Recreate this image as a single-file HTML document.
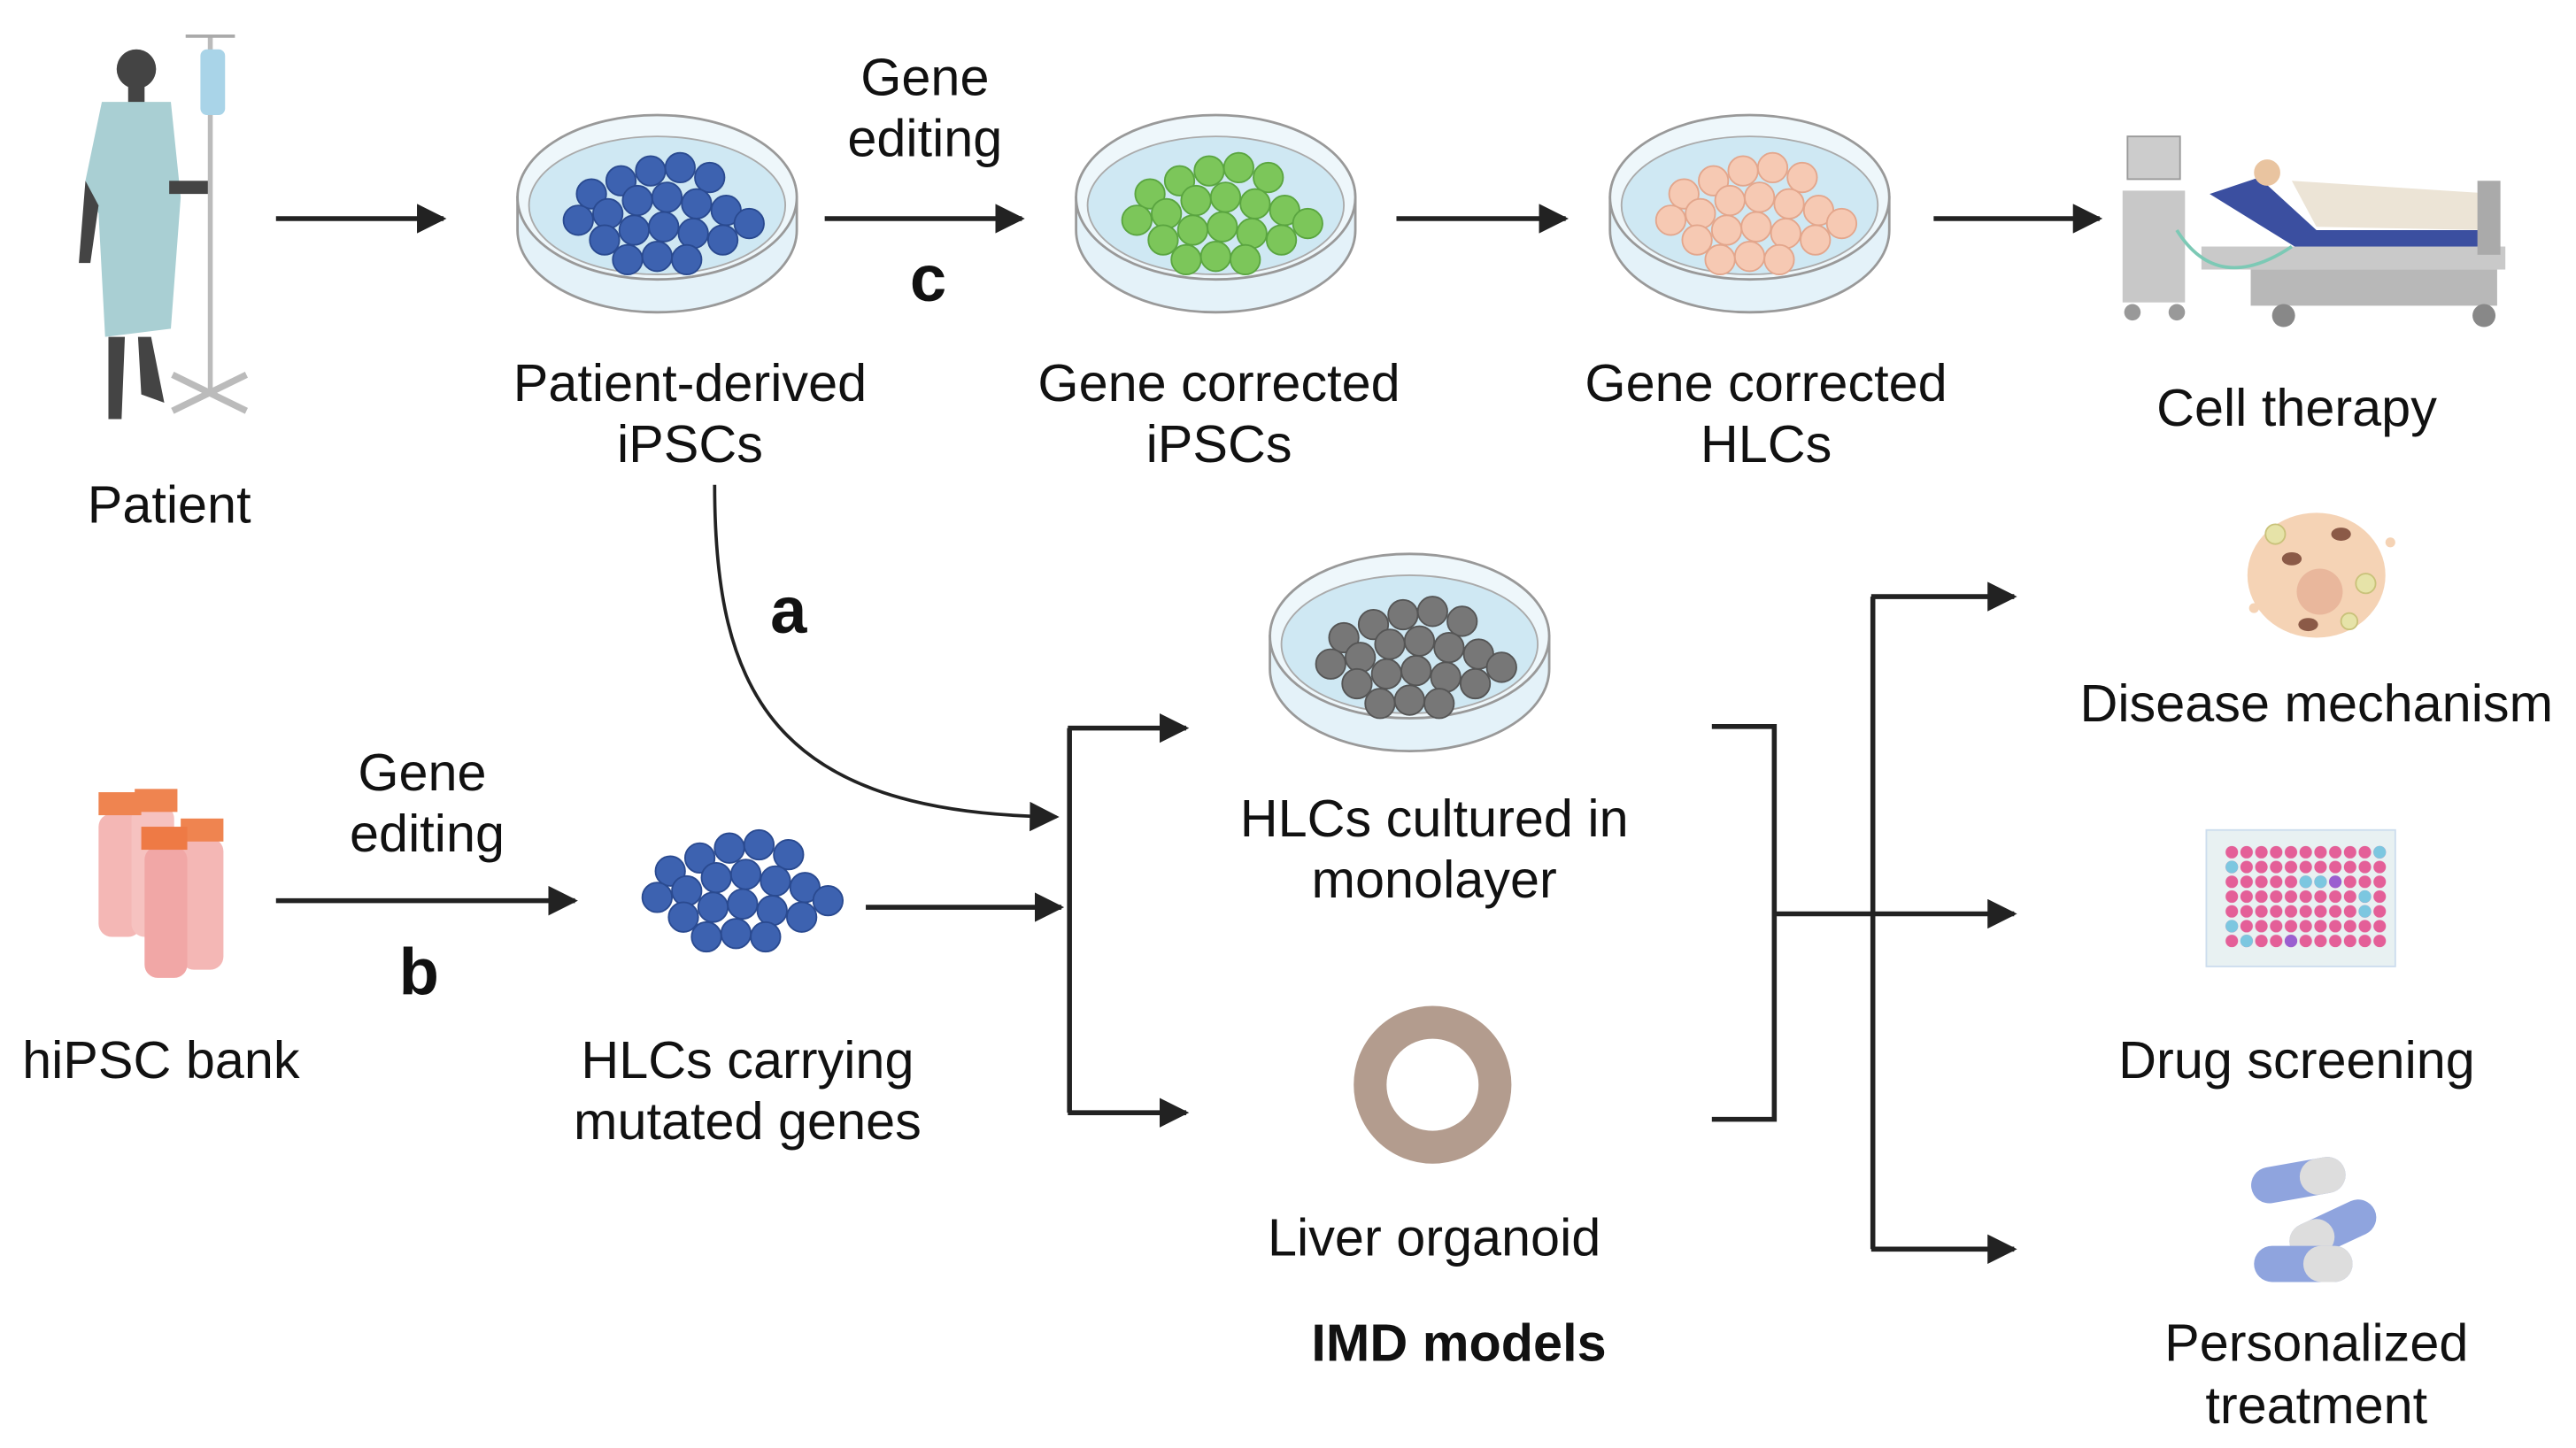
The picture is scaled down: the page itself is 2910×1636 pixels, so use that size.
<!DOCTYPE html>
<html><head><meta charset="utf-8"><style>
html,body{margin:0;padding:0;background:#fff}
svg{display:block}
text{font-family:"Liberation Sans",sans-serif;fill:#111;text-anchor:middle}
</style></head><body>
<svg width="2910" height="1636" viewBox="0 0 1568 881" preserveAspectRatio="none" xmlns="http://www.w3.org/2000/svg">
<defs>
<marker id="ah2" viewBox="0 0 10 10" markerWidth="18" markerHeight="18" refX="9" refY="5" orient="auto" markerUnits="userSpaceOnUse"><path d="M0,0 L10,5 L0,10 Z" fill="#222"/></marker>
<pattern id="wells" x="1354" y="514" width="9" height="9" patternUnits="userSpaceOnUse"><circle cx="4.5" cy="4.5" r="3.8" fill="#e45f98"/></pattern>
<g id="dish">
  <path d="M-85,-5 L-85,15 A85,50 0 0 0 85,15 L85,-5 Z" fill="#e4f2f9" stroke="#999" stroke-width="1.5"/>
  <ellipse cx="0" cy="-5" rx="85" ry="50" fill="#eef7fb" stroke="#999" stroke-width="1.5"/>
  <ellipse cx="0" cy="0" rx="78" ry="42" fill="#cfe8f3" stroke="#aaa" stroke-width="1"/>
</g>
<g id="cl">
  <circle cx="-40" cy="-10" r="9"/><circle cx="-22" cy="-18" r="9"/><circle cx="-4" cy="-24" r="9"/><circle cx="14" cy="-26" r="9"/><circle cx="32" cy="-20" r="9"/>
  <circle cx="-48" cy="6" r="9"/><circle cx="-30" cy="2" r="9"/><circle cx="-12" cy="-6" r="9"/><circle cx="6" cy="-8" r="9"/><circle cx="24" cy="-4" r="9"/><circle cx="42" cy="0" r="9"/>
  <circle cx="-32" cy="18" r="9"/><circle cx="-14" cy="12" r="9"/><circle cx="4" cy="10" r="9"/><circle cx="22" cy="14" r="9"/><circle cx="40" cy="18" r="9"/><circle cx="56" cy="8" r="9"/>
  <circle cx="-18" cy="30" r="9"/><circle cx="0" cy="28" r="9"/><circle cx="18" cy="30" r="9"/>
</g>
</defs>

<g>
  <circle cx="83" cy="42" r="12" fill="#444"/>
  <rect x="78" y="52" width="10" height="12" fill="#444"/>
  <path d="M62,62 L104,62 L110,120 L104,200 L64,205 L60,130 L52,110 Z" fill="#a9cfd3"/>
  <path d="M52,110 L48,160 L55,160 L60,125 Z" fill="#444"/>
  <rect x="103" y="110" width="25" height="8" fill="#444"/>
  <path d="M66,205 L66,255 L74,255 L76,205 Z M84,205 L86,240 L100,245 L92,205 Z" fill="#444"/>
  <line x1="128" y1="22" x2="128" y2="240" stroke="#bbb" stroke-width="3"/>
  <line x1="113" y1="22" x2="143" y2="22" stroke="#aaa" stroke-width="2"/>
  <rect x="122" y="30" width="15" height="40" rx="4" fill="#a9d4e8"/>
  <path d="M105,250 L150,228 M105,228 L150,250" stroke="#bbb" stroke-width="4"/>
</g>
<text x="103" y="318" font-size="32">Patient</text>

<line x1="168" y1="133" x2="270" y2="133" stroke="#222" stroke-width="3" marker-end="url(#ah2)"/>

<use href="#dish" x="400" y="125"/>
<use href="#cl" x="400" y="128" fill="#3d62b0" stroke="#2a4a90"/>
<text x="420" y="244" font-size="32">Patient-derived</text>
<text x="420" y="281" font-size="32">iPSCs</text>

<text x="563" y="58" font-size="32">Gene</text>
<text x="563" y="95" font-size="32">editing</text>
<line x1="502" y1="133" x2="622" y2="133" stroke="#222" stroke-width="3" marker-end="url(#ah2)"/>
<text x="565" y="183" font-size="40" font-weight="bold">c</text>

<use href="#dish" x="740" y="125"/>
<use href="#cl" x="740" y="128" fill="#7cc65a" stroke="#5aa540"/>
<text x="742" y="244" font-size="32">Gene corrected</text>
<text x="742" y="281" font-size="32">iPSCs</text>

<line x1="850" y1="133" x2="953" y2="133" stroke="#222" stroke-width="3" marker-end="url(#ah2)"/>

<use href="#dish" x="1065" y="125"/>
<use href="#cl" x="1065" y="128" fill="#f6c9b3" stroke="#e3a68c"/>
<text x="1075" y="244" font-size="32">Gene corrected</text>
<text x="1075" y="281" font-size="32">HLCs</text>

<line x1="1177" y1="133" x2="1278" y2="133" stroke="#222" stroke-width="3" marker-end="url(#ah2)"/>

<g>
  <rect x="1295" y="83" width="32" height="26" fill="#ccc" stroke="#999"/>
  <rect x="1292" y="116" width="38" height="68" fill="#c8c8c8"/>
  <circle cx="1298" cy="190" r="5" fill="#999"/><circle cx="1325" cy="190" r="5" fill="#999"/>
  <path d="M1345,118 L1375,108 L1410,140 L1520,140 L1520,150 L1400,152 Z" fill="#3b4fa0"/>
  <path d="M1395,110 L1520,118 L1518,140 L1410,138 Z" fill="#ece4d6"/>
  <circle cx="1380" cy="105" r="8" fill="#e9c4a0"/>
  <rect x="1340" y="150" width="185" height="14" fill="#c9c9c9"/>
  <rect x="1370" y="164" width="150" height="22" fill="#b8b8b8"/>
  <circle cx="1390" cy="192" r="7" fill="#888"/><circle cx="1512" cy="192" r="7" fill="#888"/>
  <rect x="1508" y="110" width="14" height="45" fill="#aaa"/>
  <path d="M1325,140 Q1350,180 1395,150" stroke="#7cc9b5" stroke-width="2" fill="none"/>
</g>
<text x="1398" y="259" font-size="32">Cell therapy</text>

<path d="M435,295 C435,420 470,495 643,497" stroke="#222" stroke-width="2" fill="none" marker-end="url(#ah2)"/>
<text x="480" y="385" font-size="40" font-weight="bold">a</text>

<g>
  <rect x="60" y="495" width="26" height="75" rx="8" fill="#f4b7b5"/>
  <rect x="80" y="490" width="26" height="80" rx="8" fill="#f6c2c0"/>
  <rect x="110" y="510" width="26" height="80" rx="8" fill="#f4b7b5"/>
  <rect x="88" y="515" width="26" height="80" rx="8" fill="#f1a7a6"/>
  <rect x="60" y="482" width="26" height="14" fill="#ef8450"/>
  <rect x="82" y="480" width="26" height="14" fill="#ef8450"/>
  <rect x="110" y="498" width="26" height="14" fill="#ef8450"/>
  <rect x="86" y="503" width="28" height="14" fill="#ee7a45"/>
</g>
<text x="98" y="656" font-size="32">hiPSC bank</text>

<text x="257" y="481" font-size="32">Gene</text>
<text x="260" y="518" font-size="32">editing</text>
<line x1="168" y1="548" x2="350" y2="548" stroke="#222" stroke-width="3" marker-end="url(#ah2)"/>
<text x="255" y="605" font-size="40" font-weight="bold">b</text>

<use href="#cl" x="448" y="540" fill="#3d62b0" stroke="#2a4a90"/>
<text x="455" y="656" font-size="32">HLCs carrying</text>
<text x="455" y="693" font-size="32">mutated genes</text>

<line x1="527" y1="552" x2="646" y2="552" stroke="#222" stroke-width="3" marker-end="url(#ah2)"/>

<path d="M651,443 L651,677" stroke="#222" stroke-width="3" fill="none"/>
<line x1="650" y1="443" x2="722" y2="443" stroke="#222" stroke-width="3" marker-end="url(#ah2)"/>
<line x1="650" y1="677" x2="722" y2="677" stroke="#222" stroke-width="3" marker-end="url(#ah2)"/>

<use href="#dish" x="858" y="392"/>
<use href="#cl" x="858" y="398" fill="#777" stroke="#555"/>
<text x="873" y="509" font-size="32">HLCs cultured in</text>
<text x="873" y="546" font-size="32">monolayer</text>

<circle cx="872" cy="660" r="38" fill="none" stroke="#b39c8e" stroke-width="20"/>
<text x="873" y="764" font-size="32">Liver organoid</text>
<text x="888" y="828" font-size="32" font-weight="bold">IMD models</text>

<path d="M1042,442 L1080,442 L1080,681 L1042,681" stroke="#222" stroke-width="3" fill="none"/>
<line x1="1080" y1="556" x2="1226" y2="556" stroke="#222" stroke-width="3" marker-end="url(#ah2)"/>
<path d="M1140,363 L1140,760" stroke="#222" stroke-width="3" fill="none"/>
<line x1="1139" y1="363" x2="1226" y2="363" stroke="#222" stroke-width="3" marker-end="url(#ah2)"/>
<line x1="1139" y1="760" x2="1226" y2="760" stroke="#222" stroke-width="3" marker-end="url(#ah2)"/>

<g>
  <ellipse cx="1410" cy="350" rx="42" ry="38" fill="#f5d3b5"/>
  <circle cx="1412" cy="360" r="14" fill="#e9b79c"/>
  <ellipse cx="1395" cy="340" rx="6" ry="4" fill="#8b5a47"/>
  <ellipse cx="1425" cy="325" rx="6" ry="4" fill="#8b5a47"/>
  <ellipse cx="1405" cy="380" rx="6" ry="4" fill="#8b5a47"/>
  <circle cx="1440" cy="355" r="6" fill="#e6e3a8" stroke="#c9c27a"/>
  <circle cx="1385" cy="325" r="6" fill="#e6e3a8" stroke="#c9c27a"/>
  <circle cx="1430" cy="378" r="5" fill="#e6e3a8" stroke="#c9c27a"/>
  <circle cx="1372" cy="370" r="3" fill="#f5d3b5"/><circle cx="1455" cy="330" r="3" fill="#f5d3b5"/>
</g>
<text x="1410" y="439" font-size="32">Disease mechanism</text>

<rect x="1343" y="505" width="115" height="83" fill="#e8f1f2" stroke="#cde"/>
<rect x="1354" y="514" width="99" height="63" fill="url(#wells)"/>
<g fill="#7cc7e0">
  <circle cx="1358.5" cy="527.5" r="3.8"/><circle cx="1403.5" cy="536.5" r="3.8"/><circle cx="1412.5" cy="536.5" r="3.8"/>
  <circle cx="1439.5" cy="545.5" r="3.8"/><circle cx="1358.5" cy="563.5" r="3.8"/><circle cx="1439.5" cy="554.5" r="3.8"/>
  <circle cx="1448.5" cy="518.5" r="3.8"/><circle cx="1367.5" cy="572.5" r="3.8"/>
</g>
<g fill="#9a5fd0"><circle cx="1421.5" cy="536.5" r="3.8"/><circle cx="1394.5" cy="572.5" r="3.8"/></g>
<text x="1398" y="656" font-size="32">Drug screening</text>

<g>
  <rect x="1370" y="707" width="58" height="22" rx="11" fill="#8fa4de" transform="rotate(-10 1399 718)"/>
  <rect x="1400" y="707" width="28" height="22" rx="11" fill="#ddd" transform="rotate(-10 1399 718)"/>
  <rect x="1392" y="737" width="56" height="22" rx="11" fill="#8fa4de" transform="rotate(-25 1420 748)"/>
  <rect x="1392" y="737" width="28" height="22" rx="11" fill="#ddd" transform="rotate(-25 1420 748)"/>
  <rect x="1372" y="758" width="60" height="22" rx="11" fill="#8fa4de"/>
  <rect x="1402" y="758" width="30" height="22" rx="11" fill="#ddd"/>
</g>
<text x="1410" y="828" font-size="32">Personalized</text>
<text x="1410" y="866" font-size="32">treatment</text>
</svg>
</body></html>
